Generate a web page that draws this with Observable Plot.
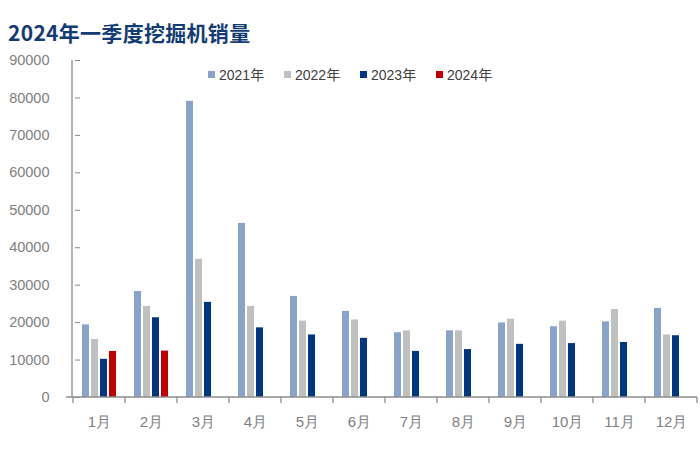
<!DOCTYPE html>
<html>
<head>
<meta charset="utf-8">
<script src="https://cdn.jsdelivr.net/npm/d3@7"></script>
<script src="https://cdn.jsdelivr.net/npm/@observablehq/plot@0.6"></script>
<style>
  html, body { margin: 0; padding: 0; background: #fff; }
  #wrap { position: relative; width: 700px; height: 449px; overflow: hidden; }
  #title { position: absolute; left: 8px; top: 17px; font-family: "Noto Sans CJK SC", sans-serif; font-weight: 700; font-size: 21px; letter-spacing: 0.3px; color: #143c74; line-height: 30px; }
  #chart { position: absolute; left: 0; top: 50px; }
  #legend { position: absolute; left: 208px; top: 64px; display: flex; font-family: "Liberation Sans", "Noto Sans CJK SC", sans-serif; font-size: 14px; color: #404040; }
  .item { display: flex; align-items: center; width: 76px; }
  .sw { width: 7px; height: 7px; margin-right: 4px; }
</style>
</head>
<body>
<div id="wrap">
  <div id="title">2024年一季度挖掘机销量</div>
  <div id="chart"></div>
  <div id="legend"></div>
</div>
<script>
const months = ["1月","2月","3月","4月","5月","6月","7月","8月","9月","10月","11月","12月"];
const years = ["2021年","2022年","2023年","2024年"];
const v2021 = [19400, 28300, 79100, 46500, 27000, 23000, 17300, 17800, 19900, 18900, 20200, 23800];
const v2022 = [15500, 24300, 36900, 24300, 20400, 20700, 17800, 17800, 20900, 20400, 23500, 16700];
const v2023 = [10200, 21300, 25400, 18600, 16700, 15800, 12300, 12800, 14200, 14400, 14700, 16500];
const v2024 = [12300, 12400];
const yTicks = [0, 10000, 20000, 30000, 40000, 50000, 60000, 70000, 80000, 90000];
const colors = ["#8aa3c9", "#c0c0c0", "#003584", "#c00000"];

const series = [v2021, v2022, v2023, v2024];
const data = [];
series.forEach((vals, si) => vals.forEach((v, mi) => data.push({month: months[mi], year: years[si], value: v})));

const plot = Plot.plot({
  width: 700,
  height: 399,
  marginTop: 10,
  marginBottom: 52,
  marginLeft: 72,
  marginRight: 3,
  style: {fontFamily: "Liberation Sans, sans-serif", fontSize: "14px", color: "#7f7f7f", background: "#fff"},
  fx: {domain: months, paddingInner: 0.27, paddingOuter: 0.135, label: null},
  x: {domain: years, paddingInner: 0.21, paddingOuter: 0.1, axis: null},
  y: {domain: [0, 90000], label: null},
  color: {domain: years, range: colors},
  marks: [
    Plot.axisY({ticks: yTicks, tickSize: 5, tickPadding: 26, tickFormat: d => String(d), stroke: "#888", fill: "#7f7f7f", fontSize: 14.5}),
    Plot.axisFx({anchor: "bottom", tickSize: 0, tickPadding: 19, fill: "#7f7f7f", fontSize: 15, label: null}),
    Plot.barY(data, {fx: "month", x: "year", y: "value", fill: "year"})
  ]
});
document.getElementById("chart").appendChild(plot);

// axis lines & category boundary ticks derived from the library's scales
const fx = plot.scale("fx"), y = plot.scale("y");
const svg = d3.select(plot);
const y0 = y.apply(0), yTop = y.apply(90000);
const [r0, r1] = fx.range;
const g = svg.append("g").attr("stroke", "#8c8c8c").attr("stroke-width", 1.3);
g.append("line").attr("x1", r0).attr("x2", r0).attr("y1", yTop).attr("y2", y0);
g.append("line").attr("x1", r0 - 6).attr("x2", r1).attr("y1", y0).attr("y2", y0);
const step = fx.step;
months.forEach((m, i) => {
  const bx = fx.apply(m) - (step - fx.bandwidth) / 2;
  g.append("line").attr("x1", bx).attr("x2", bx).attr("y1", y0).attr("y2", y0 + 6);
});
g.append("line").attr("x1", r1).attr("x2", r1).attr("y1", y0).attr("y2", y0 + 6);

// legend
const lg = d3.select("#legend");
years.forEach((yr, i) => {
  const it = lg.append("div").attr("class", "item");
  it.append("div").attr("class", "sw").style("background", colors[i]);
  it.append("span").text(yr);
});
</script>
</body>
</html>
